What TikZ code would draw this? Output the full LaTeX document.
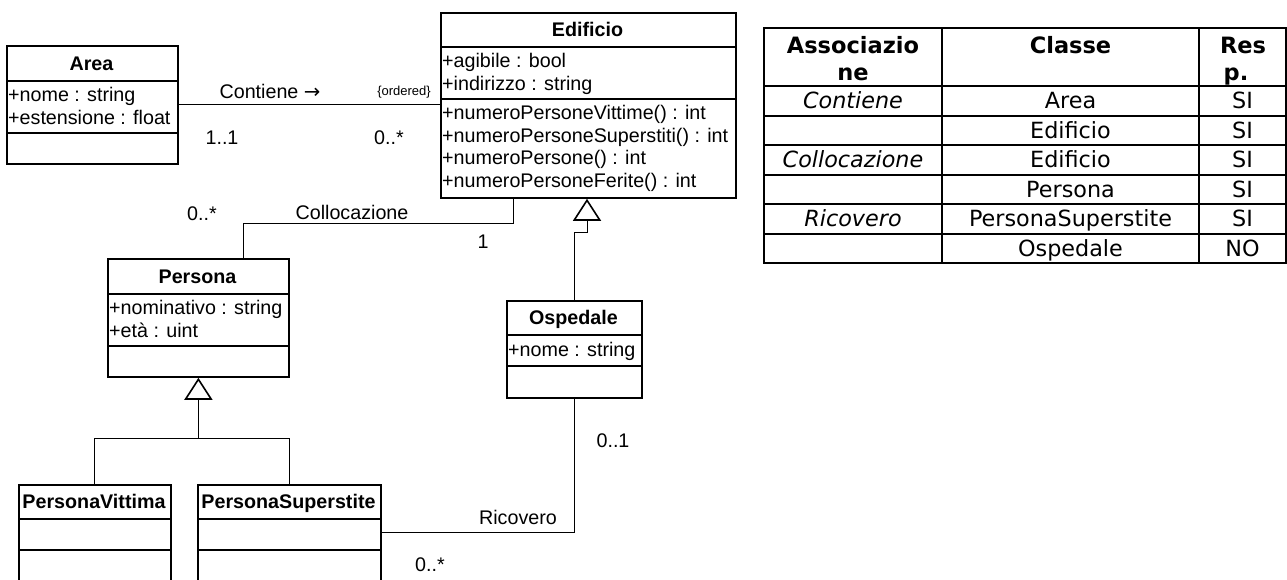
\documentclass[tikz,border=0pt]{standalone}
\usepackage{fontspec}
\setmainfont{Liberation Sans}
\newfontfamily\verd{DejaVu Sans}
\usetikzlibrary{arrows.meta}
\newcommand\umlclass[7]{%
  \node[classbox, anchor=north west, minimum width=#4-#2, minimum height=#5-#3] (#1) at (#2,#3) {};
  \draw[boxline] (#2,#6) -- (#4,#6);
  \draw[boxline] (#2,#7) -- (#4,#7);}
\begin{document}
\begin{tikzpicture}[x=1pt,y=-1pt,
  classbox/.style={draw, line width=1.8pt, inner sep=0pt, rectangle},
  boxline/.style={line width=1.8pt},
  ctitle/.style={font=\fontsize{19.7}{23}\selectfont\bfseries, inner sep=0pt, text height=14.1pt, text depth=0pt},
  attr/.style={font=\fontsize{19.7}{23}\selectfont, inner sep=0pt, anchor=west, text height=14.1pt, text depth=0pt},
  lbl/.style={font=\fontsize{19.7}{23}\selectfont, inner sep=0pt, text height=14.1pt, text depth=0pt},
  small/.style={font=\fontsize{13}{15}\selectfont, inner sep=0pt, text height=9.3pt, text depth=0pt},
  conn/.style={line width=1pt},
  gen/.style={line width=1pt, -{Triangle[open, length=22pt, width=28pt, line width=1.6pt]}},
  tab/.style={line width=2pt},
  tcell/.style={font=\verd\fontsize{22.3}{26}\selectfont, inner sep=0pt, text height=16.2pt, text depth=0pt},
  tcelli/.style={font=\verd\fontsize{22.3}{26}\selectfont\itshape, inner sep=0pt, text height=16.2pt, text depth=0pt},
  thead/.style={font=\verd\fontsize{22.5}{26}\selectfont\bfseries, inner sep=0pt, text height=16.4pt, text depth=0pt}
]
\clip (0,0) rectangle (1287,579);
\fill[white] (0,0) rectangle (1287,579);

% ---------- classes ----------
\umlclass{area}{6}{45}{177}{163}{81}{133}
\node[ctitle] (areaT) at (91.5,63) {Area};
\node[attr] (areaA1) at (8,94) {+nome : string};
\node[attr] (areaA2) at (8,117.5) {+estensione : float};

\umlclass{edificio}{440}{12}{735}{197}{47}{99}
\node[ctitle] (edT) at (587.5,29.5) {Edificio};
\node[attr] (edA1) at (442,60) {+agibile : bool};
\node[attr] (edA2) at (442,83) {+indirizzo : string};
\node[attr] (edM1) at (442,112) {+numeroPersoneVittime() : int};
\node[attr] (edM2) at (442,135) {+numeroPersoneSuperstiti() : int};
\node[attr] (edM3) at (442,157.5) {+numeroPersone() : int};
\node[attr] (edM4) at (442,180) {+numeroPersoneFerite() : int};

\umlclass{persona}{107}{258}{288}{376}{294}{346}
\node[ctitle] (perT) at (197.5,276) {Persona};
\node[attr] (perA1) at (109,307) {+nominativo : string};
\node[attr] (perA2) at (109,330) {+età : uint};

\umlclass{ospedale}{506}{300}{641}{397}{335}{366}
\node[ctitle] (ospT) at (573.5,317.5) {Ospedale};
\node[attr] (ospA1) at (508,349) {+nome : string};

\umlclass{pv}{18}{484}{170}{600}{519}{550}
\node[ctitle] (pvT) at (94,501.5) {PersonaVittima};

\umlclass{ps}{197}{484}{380}{600}{519}{550}
\node[ctitle] (psT) at (288.5,501.5) {PersonaSuperstite};

% ---------- connectors ----------
\draw[conn] (area.east) -- (area.east -| edificio.west);
\draw[conn] (edificio.south -| 513,0) -- (513,223) -| (persona.north -| 243,0);
\draw[gen] (ospedale.north) |- (587,232) -- (edificio.south -| 587,0);
\draw[gen] (pv.north) |- (persona.south |- 0,438) -- (persona.south);
\draw[conn] (ps.north) |- (persona.south |- 0,438);
\draw[conn] (ospedale.south) |- (ps.east |- 0,532);

% ---------- labels ----------
\node[lbl] (lContiene) at (270,91) {Contiene {\verd →}};
\node[small] (lOrdered) at (404,91) {\{ordered\}};
\node[lbl] (lC1) at (222,137) {1..1};
\node[lbl] (lC2) at (389,137) {0..*};
\node[lbl] (lColl) at (352,212) {Collocazione};
\node[lbl] (lColl1) at (483,241) {1};
\node[lbl] (lColl2) at (202,213) {0..*};
\node[lbl] (lRic1) at (613,440) {0..1};
\node[lbl] (lRic) at (518,517) {Ricovero};
\node[lbl] (lRic2) at (430,564) {0..*};

% ---------- table ----------
\draw[tab] (764,28) rectangle (1286,263);
\foreach \yy in {86,115.5,145,174.5,204,233.5} \draw[tab] (764,\yy) -- (1286,\yy);
\draw[tab] (942,28) -- (942,263);
\draw[tab] (1199,28) -- (1199,263);

\node[thead] (h1a) at (853,45) {Associazio};
\node[thead] (h1b) at (853,72) {ne};
\node[thead] (h2) at (1070.5,45) {Classe};
\node[thead] (h3a) at (1243,45) {Res};
\node[thead] (h3b) at (1236,72) {p.};

\node[tcelli] (r1a) at (853,100.75) {Contiene};
\node[tcell] (r1b) at (1070.5,100.75) {Area};
\node[tcell] (r1c) at (1242.5,100.75) {SI};
\node[tcell] (r2b) at (1070.5,130.25) {Edificio};
\node[tcell] (r2c) at (1242.5,130.25) {SI};
\node[tcelli] (r3a) at (853,159.75) {Collocazione};
\node[tcell] (r3b) at (1070.5,159.75) {Edificio};
\node[tcell] (r3c) at (1242.5,159.75) {SI};
\node[tcell] (r4b) at (1070.5,189.25) {Persona};
\node[tcell] (r4c) at (1242.5,189.25) {SI};
\node[tcelli] (r5a) at (853,218.75) {Ricovero};
\node[tcell] (r5b) at (1070.5,218.75) {PersonaSuperstite};
\node[tcell] (r5c) at (1242.5,218.75) {SI};
\node[tcell] (r6b) at (1070.5,248.25) {Ospedale};
\node[tcell] (r6c) at (1242.5,248.25) {NO};
\end{tikzpicture}
\end{document}
